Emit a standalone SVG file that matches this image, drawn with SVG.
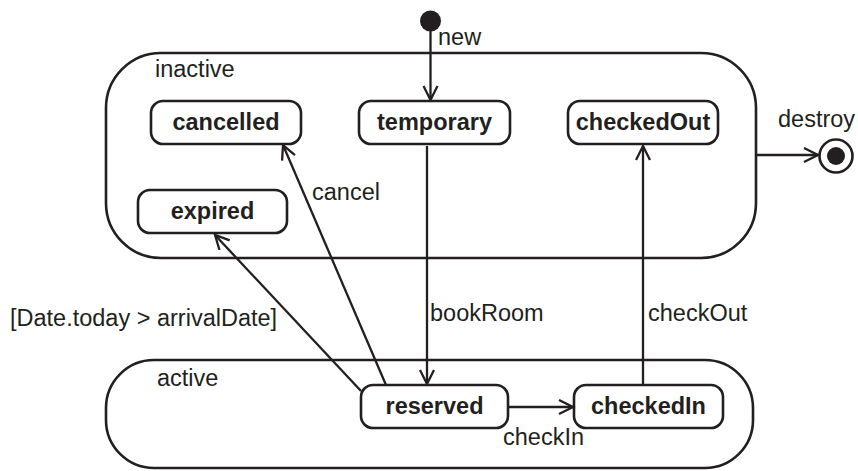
<svg xmlns="http://www.w3.org/2000/svg" width="858" height="471" viewBox="0 0 858 471">
<defs>
<marker id="arr" markerUnits="userSpaceOnUse" markerWidth="18" markerHeight="18" refX="15" refY="8" orient="auto">
<path d="M1,1 L15,8 L1,15" fill="none" stroke="#231f20" stroke-width="2.3"/>
</marker>
<style>
.comp{fill:none;stroke:#231f20;stroke-width:2.6}
.st{fill:#fff;stroke:#231f20;stroke-width:2.6}
.ln{fill:none;stroke:#231f20;stroke-width:2.3}
.nl{font-family:"Liberation Sans",Arial,sans-serif;font-weight:bold;font-size:23.5px;fill:#231f20;text-anchor:middle}
.lb{font-family:"Liberation Sans",Arial,sans-serif;font-size:23.5px;fill:#231f20}
</style>
</defs>
<rect width="858" height="471" fill="#fff"/>
<g id="inactive">
<rect class="comp" x="106" y="53" width="650" height="205" rx="55" ry="55"/>
<text class="lb" x="155" y="77">inactive</text>
</g>
<g id="active">
<rect class="comp" x="106" y="360" width="647" height="108" rx="48" ry="48"/>
<text class="lb" x="157" y="386">active</text>
</g>
<g id="initial"><circle cx="430.5" cy="21" r="10.5" fill="#231f20"/></g>
<g id="final">
<circle cx="836" cy="156" r="16.5" fill="#fff" stroke="#231f20" stroke-width="2.6"/>
<circle cx="836" cy="156" r="9" fill="#231f20"/>
</g>
<g id="cancelled"><rect class="st" x="151" y="101" width="150" height="43" rx="12"/><text class="nl" x="226" y="130">cancelled</text></g>
<g id="temporary"><rect class="st" x="359" y="101" width="151" height="43" rx="12"/><text class="nl" x="434.5" y="130">temporary</text></g>
<g id="checkedOut"><rect class="st" x="568" y="101" width="150" height="43" rx="12"/><text class="nl" x="643" y="130">checkedOut</text></g>
<g id="expired"><rect class="st" x="138" y="190" width="149" height="43" rx="12"/><text class="nl" x="212.5" y="219">expired</text></g>
<g id="reserved"><rect class="st" x="361" y="385" width="147" height="43" rx="12"/><text class="nl" x="434.5" y="414">reserved</text></g>
<g id="checkedIn"><rect class="st" x="574" y="385" width="149" height="43" rx="12"/><text class="nl" x="648.5" y="414">checkedIn</text></g>
<g id="connectors">
<path class="ln" d="M430.5,31 L430.5,100" marker-end="url(#arr)"/>
<path class="ln" d="M427,146 L427,384" marker-end="url(#arr)"/>
<path class="ln" d="M643,385 L643,146" marker-end="url(#arr)"/>
<path class="ln" d="M508,407 L573,407" marker-end="url(#arr)"/>
<path class="ln" d="M386,385 L283,145" marker-end="url(#arr)"/>
<path class="ln" d="M361,391 L215,235" marker-end="url(#arr)"/>
<path class="ln" d="M757,155 L818,155" marker-end="url(#arr)"/>
<text class="lb" x="438" y="45">new</text>
<text class="lb" x="778" y="127">destroy</text>
<text class="lb" x="312" y="200">cancel</text>
<text class="lb" x="10" y="326">[Date.today &gt; arrivalDate]</text>
<text class="lb" x="430" y="321">bookRoom</text>
<text class="lb" x="648" y="321">checkOut</text>
<text class="lb" x="503" y="445">checkIn</text>
</g>
</svg>
